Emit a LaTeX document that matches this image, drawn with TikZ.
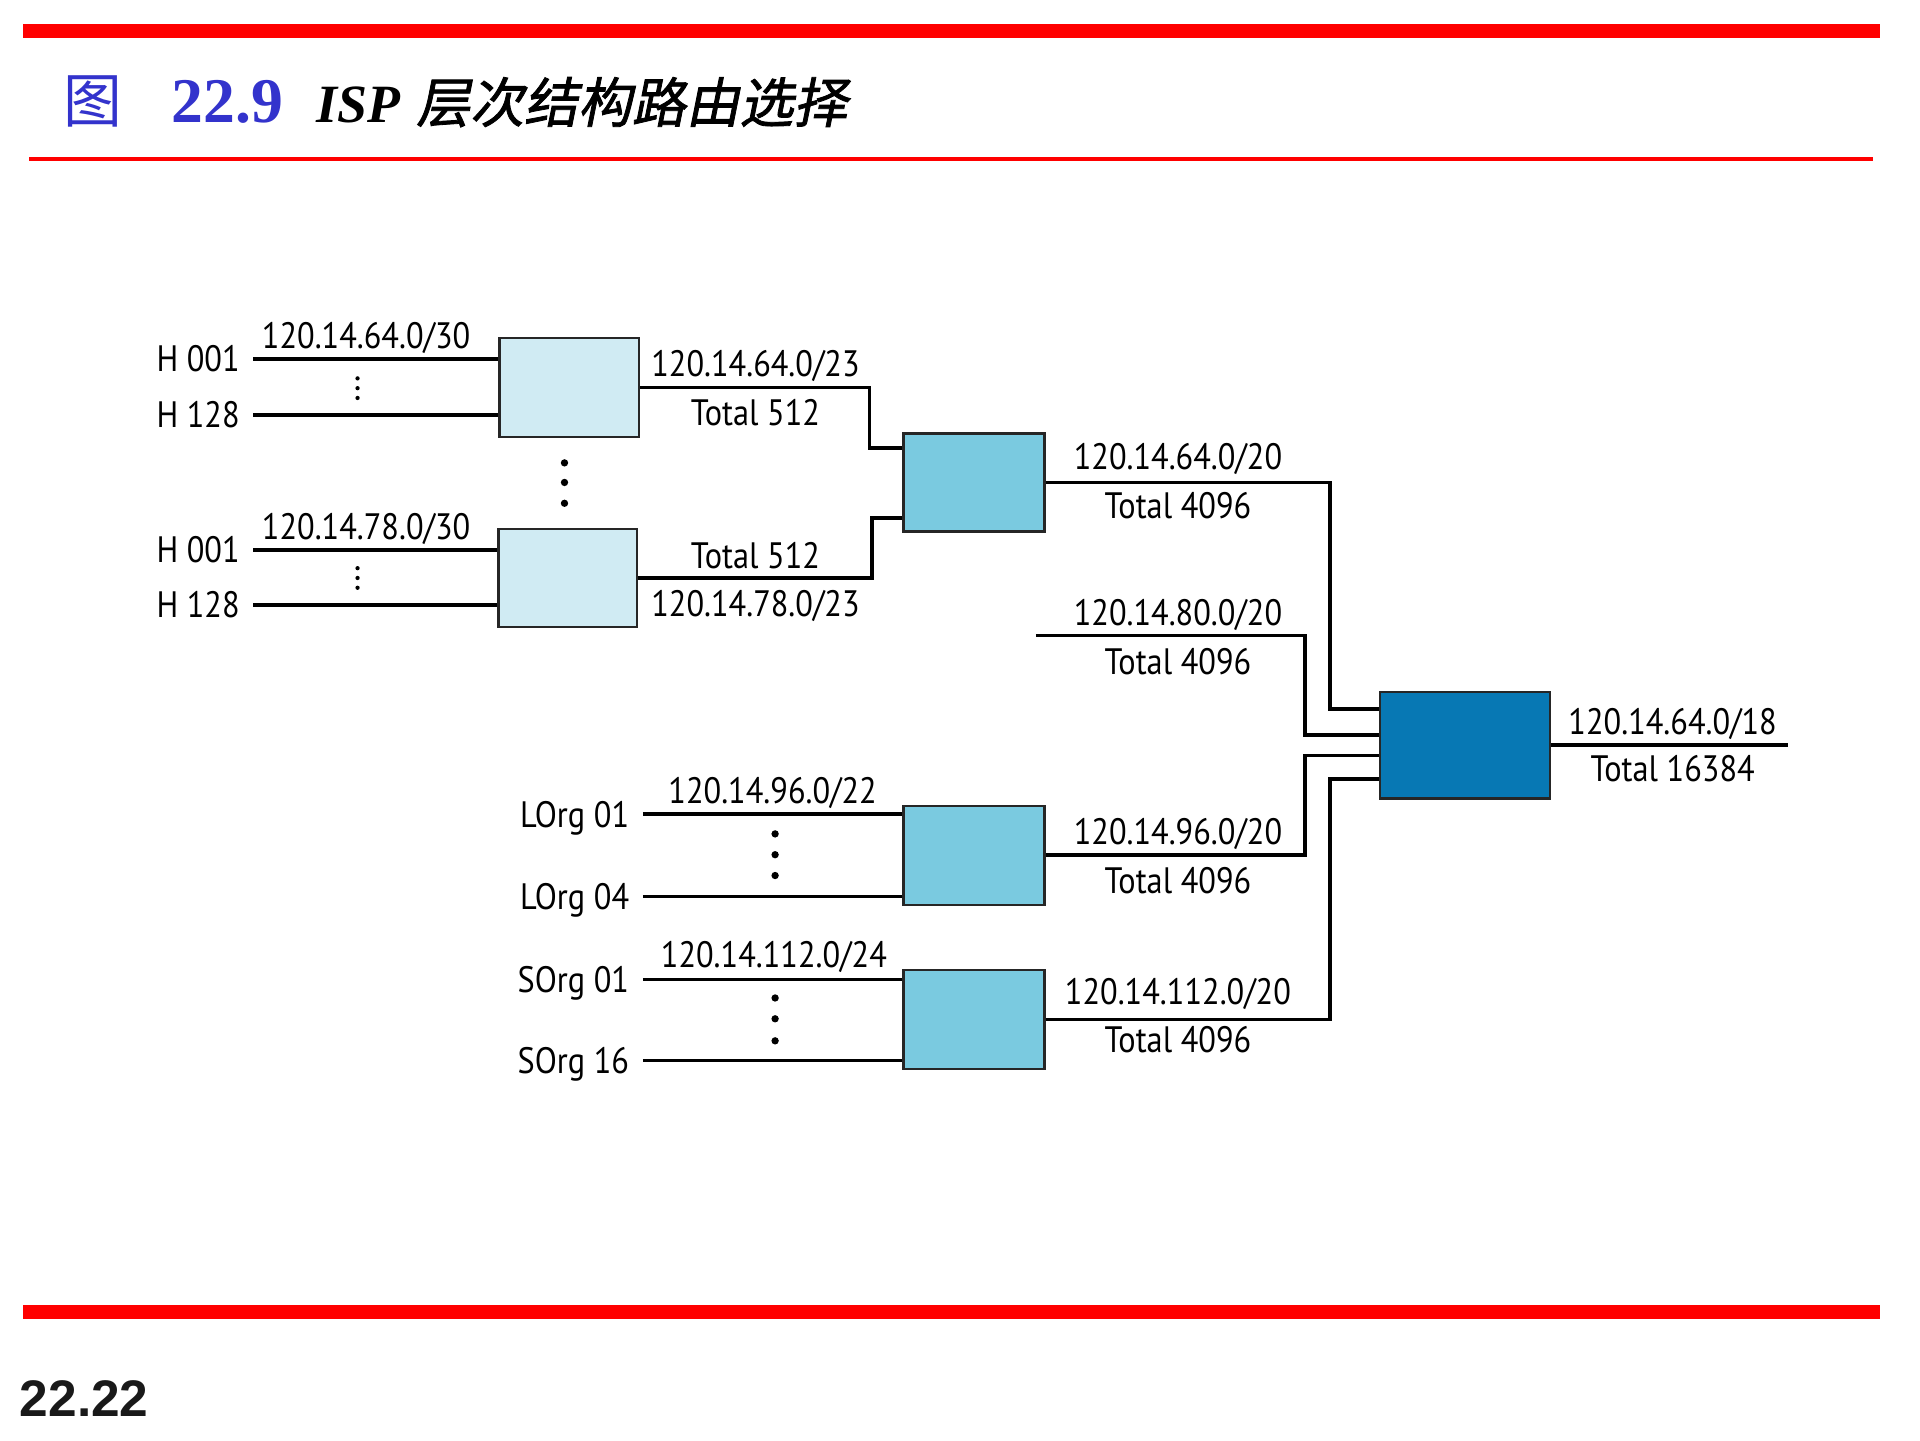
\documentclass[tikz,border=0pt]{standalone}
\usepackage{fontspec}
\newfontfamily\lab[FakeStretch=0.88]{PT Sans}
\newfontfamily\cjk{Noto Sans CJK SC}
\newfontfamily\cjkbi[FakeSlant=0.2,FakeBold=1.5]{Noto Sans CJK SC}
\newfontfamily\tser{Liberation Serif}
\newfontfamily\hel{Liberation Sans}
\definecolor{titleblue}{HTML}{3333CC}
\definecolor{boxlight}{HTML}{D0EBF3}
\definecolor{boxmid}{HTML}{7ACAE0}
\definecolor{boxdark}{HTML}{0778B4}
\definecolor{redline}{HTML}{FF0000}
\tikzset{
  wire/.style={line width=3pt, black},
  router/.style={draw=black!85, line width=2pt, inner sep=0pt},
  lbl/.style={font=\lab\fontsize{30}{30}\selectfont, inner sep=0pt, text height=21pt, text depth=0pt},
  dotsm/.style={fill=black, circle, inner sep=0pt, minimum size=3.5pt},
  dotbg/.style={fill=black, circle, inner sep=0pt, minimum size=6pt},
}
\begin{document}
\begin{tikzpicture}[x=1pt,y=-1pt]
\useasboundingbox (0,0) rectangle (1568,1176);
\fill[white] (0,0) rectangle (1568,1176);
% frame lines
\fill[redline] (19,20) rectangle (1535,31);
\fill[redline] (24,128.5) rectangle (1530,131.5);
\fill[redline] (19,1066) rectangle (1535,1077);
% title
\node[anchor=base, inner sep=0pt, text=titleblue, font=\cjk\fontsize{48}{48}\selectfont] (tfig) at (76,100) {图};
\node[anchor=base west, inner sep=0pt, text=titleblue, font=\tser\bfseries\fontsize{52}{52}\selectfont] (tnum) at (140,100) {22.9};
\node[anchor=base west, inner sep=0pt, font=\fontsize{44}{44}\selectfont] (ttext) at (258,100) {{\tser\bfseries\itshape ISP} {\cjkbi 层次结构路由选择}};
\node[anchor=base west, inner sep=0pt, text=black!90, font=\hel\bfseries\fontsize{42}{42}\selectfont] (pagenum) at (16,1157) {22.22};

% routers
\node[router, fill=boxlight, minimum width=114pt, minimum height=81pt] (A) at (465,316.5) {};
\node[router, fill=boxlight, minimum width=113pt, minimum height=80pt] (B) at (463.5,472) {};
\node[router, fill=boxmid, minimum width=115pt, minimum height=80pt] (C) at (795.5,394) {};
\node[router, fill=boxdark, minimum width=139pt, minimum height=87pt] (D) at (1196.5,608.5) {};
\node[router, fill=boxmid, minimum width=115pt, minimum height=81pt] (E) at (795.5,698.5) {};
\node[router, fill=boxmid, minimum width=115pt, minimum height=81pt] (F) at (795.5,832.5) {};

% host labels and lines (group A)
\node[lbl, anchor=east] (hA1) at (196,293) {H 001};
\node[lbl, anchor=east] (hA2) at (196,339) {H 128};
\coordinate (sA1) at (207,293);
\coordinate (sA2) at (207,339);
\draw[wire] (sA1) -- (sA1 -| A.west);
\draw[wire] (sA2) -- (sA2 -| A.west);
\node[lbl] (nA) at (299,274) {120.14.64.0/30};
\node[dotsm] (dA1) at (292,309) {};
\node[dotsm] (dA2) at (292,317) {};
\node[dotsm] (dA3) at (292,325) {};

% group B
\node[lbl, anchor=east] (hB1) at (196,449) {H 001};
\node[lbl, anchor=east] (hB2) at (196,494) {H 128};
\coordinate (sB1) at (207,449);
\coordinate (sB2) at (207,494);
\draw[wire] (sB1) -- (sB1 -| B.west);
\draw[wire] (sB2) -- (sB2 -| B.west);
\node[lbl] (nB) at (299,430) {120.14.78.0/30};
\node[dotsm] (dB1) at (292,464) {};
\node[dotsm] (dB2) at (292,472) {};
\node[dotsm] (dB3) at (292,480) {};

% dots between A and B
\node[dotbg] (dm1) at (461,378) {};
\node[dotbg] (dm2) at (461,394) {};
\node[dotbg] (dm3) at (461,411) {};

% A, B -> C
\draw[wire] (A.east) -- (710,316.5) |- ([yshift=28pt]C.west);
\node[lbl] (oA1) at (617,297) {120.14.64.0/23};
\node[lbl] (oA2) at (617,337) {Total 512};
\draw[wire] (B.east) -- (712,472) |- ([yshift=-29pt]C.west);
\node[lbl] (oB1) at (617,454) {Total 512};
\node[lbl] (oB2) at (617,493) {120.14.78.0/23};

% C -> D
\draw[wire] (C.east) -- (1086,394) |- ([yshift=29.5pt]D.west);
\node[lbl] (oC1) at (962,373) {120.14.64.0/20};
\node[lbl] (oC2) at (962,413) {Total 4096};

% 120.14.80.0/20 -> D
\coordinate (in80) at (846,519);
\draw[wire] (in80) -- (1066,519) |- ([yshift=8.5pt]D.west);
\node[lbl] (o81) at (962,500) {120.14.80.0/20};
\node[lbl] (o82) at (962,540) {Total 4096};

% E -> D
\draw[wire] (E.east) -- (1066,698.5) |- ([yshift=-8.5pt]D.west);
\node[lbl] (oE1) at (962,679) {120.14.96.0/20};
\node[lbl] (oE2) at (962,719) {Total 4096};

% F -> D
\draw[wire] (F.east) -- (1086,832.5) |- ([yshift=-27.5pt]D.west);
\node[lbl] (oF1) at (962,810) {120.14.112.0/20};
\node[lbl] (oF2) at (962,849) {Total 4096};

% D output
\coordinate (outD) at (1460,608.5);
\draw[wire] (D.east) -- (outD);
\node[lbl] (oD1) at (1366,589) {120.14.64.0/18};
\node[lbl] (oD2) at (1366,628) {Total 16384};

% LOrg group
\node[lbl, anchor=east] (lE1) at (514,665) {LOrg 01};
\node[lbl, anchor=east] (lE2) at (514,732) {LOrg 04};
\coordinate (sE1) at (525,665);
\coordinate (sE2) at (525,732);
\draw[wire] (sE1) -- (sE1 -| E.west);
\draw[wire] (sE2) -- (sE2 -| E.west);
\node[lbl] (nE) at (631,646) {120.14.96.0/22};
\node[dotbg] (dE1) at (633,681) {};
\node[dotbg] (dE2) at (633,698) {};
\node[dotbg] (dE3) at (633,715) {};

% SOrg group
\node[lbl, anchor=east] (lF1) at (514,800) {SOrg 01};
\node[lbl, anchor=east] (lF2) at (514,866) {SOrg 16};
\coordinate (sF1) at (525,800);
\coordinate (sF2) at (525,866);
\draw[wire] (sF1) -- (sF1 -| F.west);
\draw[wire] (sF2) -- (sF2 -| F.west);
\node[lbl] (nF) at (632,780) {120.14.112.0/24};
\node[dotbg] (dF1) at (633,815) {};
\node[dotbg] (dF2) at (633,832) {};
\node[dotbg] (dF3) at (633,850) {};
\end{tikzpicture}
\end{document}
